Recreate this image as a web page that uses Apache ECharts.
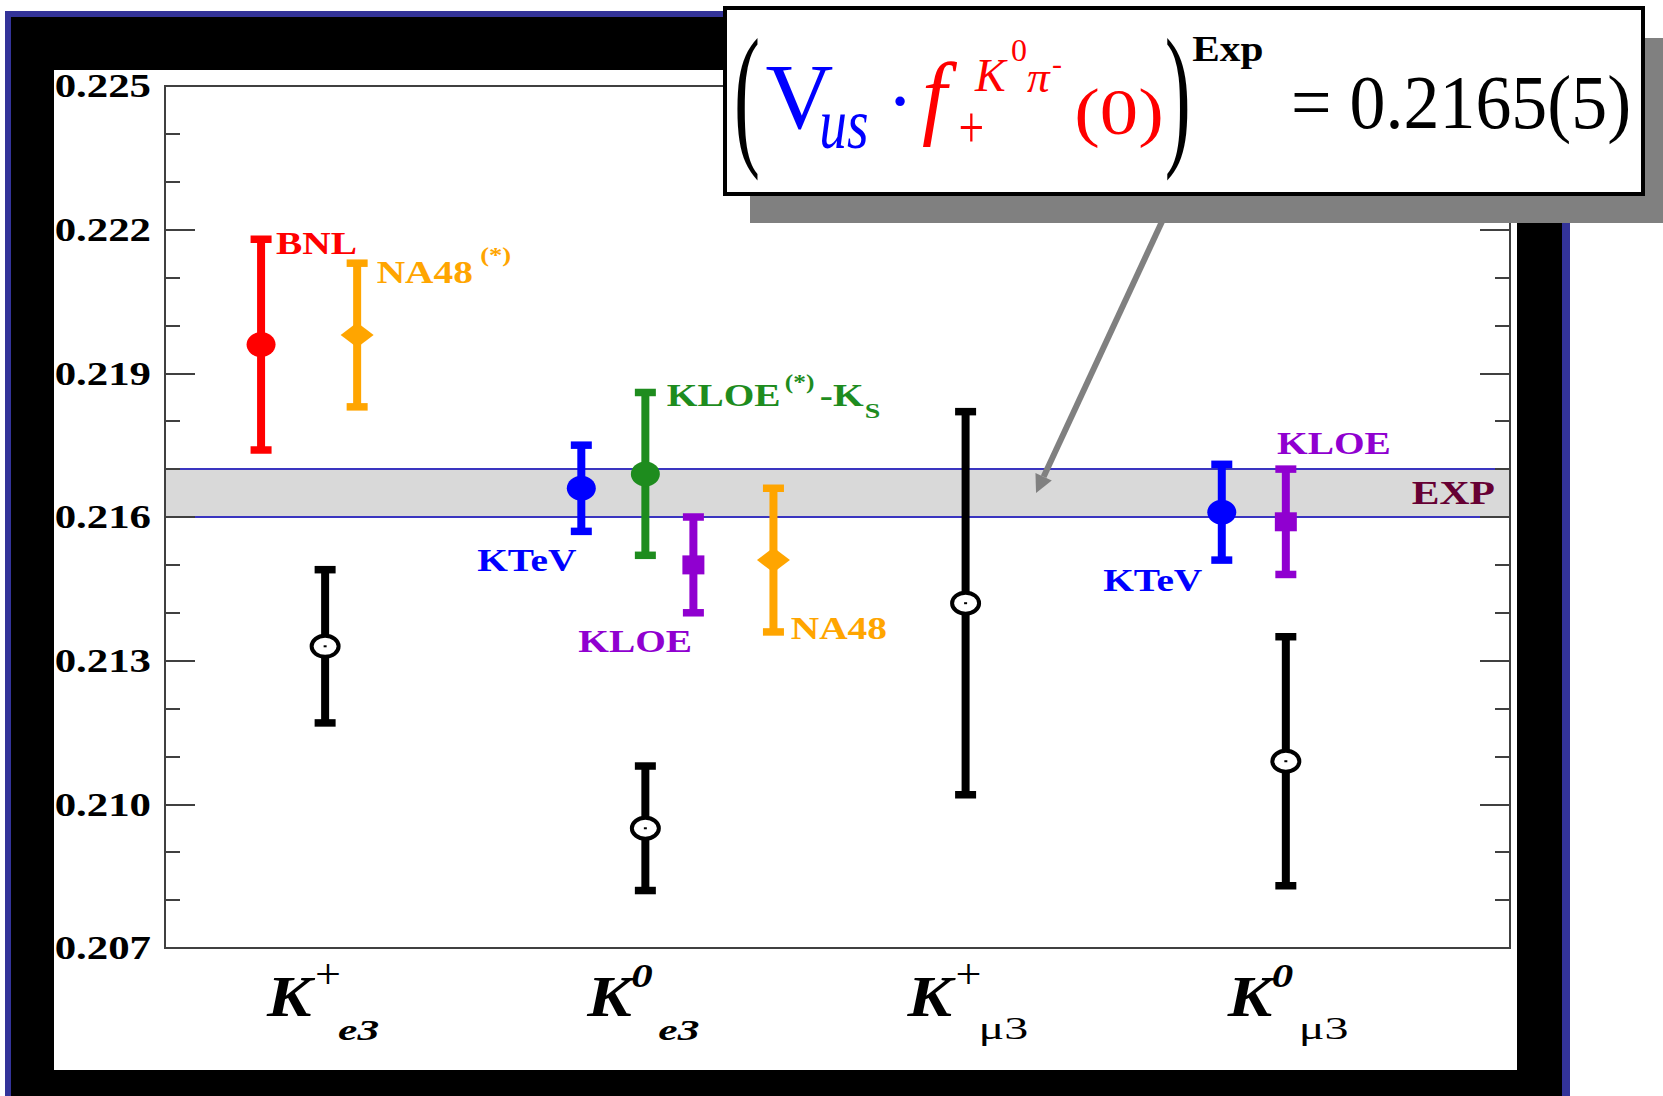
<!DOCTYPE html>
<html>
<head>
<meta charset="utf-8">
<script src="https://cdn.jsdelivr.net/npm/echarts@6/dist/echarts.min.js"></script>
<style>
  html, body { margin: 0; padding: 0; background: #ffffff; }
  #chart { width: 1663px; height: 1096px; }
</style>
</head>
<body>
<div id="chart"></div>
<script>
// ---- decay channels along the x axis (positions 1..4) ----
const channels = ['Ke3+', 'Ke3 0', 'Kmu3+', 'Kmu3 0'];

// ---- measurements: [channel index, central value, uncertainty] ----
const bnl     = [[0, 0.2196, 0.0022]];
const na48Kp  = [[0, 0.2198, 0.0015]];
const ktev    = [[1, 0.2166, 0.0009], [3, 0.2161, 0.0010]];
const kloeKs  = [[1, 0.2169, 0.0017]];
const kloe    = [[1, 0.2150, 0.0010], [3, 0.2159, 0.0011]];
const na48KL  = [[1, 0.2151, 0.0015]];
const oldFits = [[0, 0.2133, 0.0016], [1, 0.2095, 0.0013], [2, 0.2142, 0.0040], [3, 0.2109, 0.0026]];

// ---- experimental average ----
const expValue = 0.2165;
const expError = 0.0005;

// ---- y axis ----
const yMin = 0.207, yMax = 0.225, yStep = 0.003;
const yTickLabels = ['0.207', '0.210', '0.213', '0.216', '0.219', '0.222', '0.225'];

// ---- layout: horizontal slot of each point inside its channel ----
const xMin = 0.5, xMax = 4.7;
const slot = {
  bnl: [-0.2], na48Kp: [0.1], ktev: [-0.2, -0.2], kloeKs: [0],
  kloe: [0.15, 0], na48KL: [0.4], oldFits: [0, 0, 0, 0]
};

const RED = '#ff0000', ORANGE = '#ffa500', BLUE = '#0000ff', GREEN = '#1e8c1e',
      PURPLE = '#9000d0', BLACK = '#000000', AXIS = '#404040';
const SERIF = '"Liberation Serif", "Times New Roman", Times, serif';

function markerShape(kind, p, color) {
  const [cx, cy] = p;
  if (kind === 'circle') {
    return [{ type: 'ellipse', shape: { cx, cy, rx: 14.5, ry: 12.5 }, style: { fill: color } }];
  }
  if (kind === 'diamond') {
    return [{ type: 'polygon', shape: { points: [[cx, cy - 12.5], [cx + 16.5, cy], [cx, cy + 12.5], [cx - 16.5, cy]] },
              style: { fill: color } }];
  }
  if (kind === 'square') {
    return [{ type: 'rect', shape: { x: cx - 11, y: cy - 9.5, width: 22, height: 19 }, style: { fill: color } }];
  }
  // open marker
  return [
    { type: 'ellipse', shape: { cx, cy, rx: 13.5, ry: 10.5 }, style: { fill: '#ffffff', stroke: color, lineWidth: 4 } },
    { type: 'rect', shape: { x: cx - 1.5, y: cy - 1, width: 3, height: 2 }, style: { fill: color } }
  ];
}

function errorSeries(name, rows, shifts, color, marker) {
  return {
    type: 'custom',
    name,
    coordinateSystem: 'cartesian2d',
    z: 3,
    data: rows.map((r, i) => [r[0] + 1 + shifts[i], r[1], r[2]]),
    encode: { x: 0, y: 1 },
    renderItem(params, api) {
      const x = api.value(0), c = api.value(1), e = api.value(2);
      const top = api.coord([x, c + e]);
      const bot = api.coord([x, c - e]);
      const mid = api.coord([x, c]);
      return {
        type: 'group',
        children: [
          { type: 'line', shape: { x1: top[0], y1: top[1], x2: bot[0], y2: bot[1] }, style: { stroke: color, lineWidth: 8 } },
          { type: 'rect', shape: { x: top[0] - 10.5, y: top[1] - 3.75, width: 21, height: 7.5 }, style: { fill: color } },
          { type: 'rect', shape: { x: bot[0] - 10.5, y: bot[1] - 3.75, width: 21, height: 7.5 }, style: { fill: color } }
        ].concat(markerShape(marker, mid, color))
      };
    }
  };
}

const bandSeries = {
  type: 'custom',
  name: 'EXP',
  coordinateSystem: 'cartesian2d',
  z: 1,
  data: [[expValue, expError]],
  renderItem(params, api) {
    const v = api.value(0), e = api.value(1);
    const cs = params.coordSys;
    const yt = api.coord([xMin, v + e])[1];
    const yb = api.coord([xMin, v - e])[1];
    return {
      type: 'group',
      children: [
        { type: 'rect', shape: { x: cs.x, y: yt, width: cs.width, height: yb - yt }, style: { fill: '#d9d9d9' } },
        { type: 'line', shape: { x1: cs.x, y1: yt, x2: cs.x + cs.width, y2: yt }, style: { stroke: '#3a35c0', lineWidth: 2 } },
        { type: 'line', shape: { x1: cs.x, y1: yb, x2: cs.x + cs.width, y2: yb }, style: { stroke: '#3a35c0', lineWidth: 2 } }
      ]
    };
  }
};

function yAxisDef(position) {
  return {
    type: 'value', position, min: yMin, max: yMax, interval: yStep, z: 5,
    axisLine: { show: true, lineStyle: { color: AXIS, width: 2 } },
    axisTick: { show: true, inside: true, length: 30, lineStyle: { color: AXIS, width: 2 } },
    minorTick: { show: true, splitNumber: 3, length: 15, lineStyle: { color: AXIS, width: 2 } },
    axisLabel: { show: false },
    splitLine: { show: false },
    minorSplitLine: { show: false }
  };
}

const chart = echarts.init(document.getElementById('chart'), null, { renderer: 'svg' });

chart.setOption({
  animation: false,
  backgroundColor: '#ffffff',
  grid: { left: 165, right: 153, top: 86, bottom: 148, show: true, borderColor: AXIS, borderWidth: 2, z: 4 },
  xAxis: { type: 'value', min: xMin, max: xMax, show: false },
  yAxis: [yAxisDef('left'), yAxisDef('right')],
  series: [
    bandSeries,
    errorSeries('BNL', bnl, slot.bnl, RED, 'circle'),
    errorSeries('NA48(*)', na48Kp, slot.na48Kp, ORANGE, 'diamond'),
    errorSeries('KTeV', ktev, slot.ktev, BLUE, 'circle'),
    errorSeries('KLOE(*)-KS', kloeKs, slot.kloeKs, GREEN, 'circle'),
    errorSeries('KLOE', kloe, slot.kloe, PURPLE, 'square'),
    errorSeries('NA48', na48KL, slot.na48KL, ORANGE, 'diamond'),
    errorSeries('old', oldFits, slot.oldFits, BLACK, 'open')
  ]
});

// ---- text and decorations placed through the chart's own scales ----
const toPx = (x, y) => chart.convertToPixel({ xAxisIndex: 0, yAxisIndex: 0 }, [x, y]);

function T(text, x, y, o) {
  const align = o.align || 'left';
  return {
    type: 'text', x, y, scaleX: o.sx || 1, z: o.z || 50,
    style: {
      text, fill: o.color || BLACK, fontFamily: SERIF, fontSize: o.size,
      fontWeight: o.bold ? 'bold' : 'normal', fontStyle: o.italic ? 'italic' : 'normal',
      align, verticalAlign: 'middle', textAlign: align, textVerticalAlign: 'middle'
    }
  };
}

function pointPx(rows, shifts, i) {
  const r = rows[i];
  const x = r[0] + 1 + shifts[i];
  const mid = toPx(x, r[1]);
  return { x: mid[0], mid: mid[1], top: toPx(x, r[1] + r[2])[1], bot: toPx(x, r[1] - r[2])[1] };
}

const SX = 1.27;       // plot lettering is set wide
const LBL = 31;
const els = [];

// frame behind the plot
els.push({ type: 'rect', z: -30, shape: { x: 5, y: 11, width: 1565, height: 1100 }, style: { fill: '#333399' } });
els.push({ type: 'rect', z: -29, shape: { x: 11, y: 17, width: 1551, height: 1100 }, style: { fill: '#000000' } });
els.push({ type: 'rect', z: -28, shape: { x: 54, y: 70, width: 1463, height: 1000 }, style: { fill: '#ffffff' } });

// y tick labels
yTickLabels.forEach(lbl => {
  const py = toPx(xMin, parseFloat(lbl))[1];
  els.push(T(lbl, 151, py, { size: 34, bold: true, sx: 1.26, align: 'right' }));
});

// channel labels under the axis
const axisY = toPx(xMin, yMin)[1];
const chanParts = [
  { sup: '+', sub: 'e3', subBold: true },
  { sup: '0', sub: 'e3', subBold: true },
  { sup: '+', sub: 'μ3', subBold: false },
  { sup: '0', sub: 'μ3', subBold: false }
];
chanParts.forEach((c, i) => {
  const cx = toPx(i + 1, yMin)[0];
  els.push(T('K', cx - 58, axisY + 49, { size: 58, bold: true, italic: true, sx: 1.15 }));
  if (c.sup === '+') {
    els.push(T('+', cx - 10, axisY + 26, { size: 43, sx: 1.07 }));
  } else {
    els.push(T('0', cx - 14, axisY + 28, { size: 33, bold: true, italic: true, sx: 1.3 }));
  }
  if (c.subBold) {
    els.push(T(c.sub, cx + 13, axisY + 82, { size: 30, bold: true, italic: true, sx: 1.45 }));
  } else {
    els.push(T(c.sub, cx + 13, axisY + 80, { size: 32, sx: 1.5 }));
  }
});

// experiment labels
let p;
p = pointPx(bnl, slot.bnl, 0);
els.push(T('BNL', p.x + 15, p.top + 4, { size: LBL, bold: true, color: RED, sx: SX }));

p = pointPx(na48Kp, slot.na48Kp, 0);
els.push(T('NA48', p.x + 19.5, p.top + 9.5, { size: LBL, bold: true, color: ORANGE, sx: SX }));
els.push(T('(*)', p.x + 123, p.top - 8, { size: 21, bold: true, color: ORANGE, sx: SX }));

p = pointPx(kloeKs, slot.kloeKs, 0);
els.push(T('KLOE', p.x + 21.5, p.top + 3.5, { size: LBL, bold: true, color: GREEN, sx: SX }));
els.push(T('(*)', p.x + 139.5, p.top - 10, { size: 20, bold: true, color: GREEN, sx: SX }));
els.push(T('-K', p.x + 174.5, p.top + 3.5, { size: LBL, bold: true, color: GREEN, sx: SX }));
els.push(T('S', p.x + 219.5, p.top + 18, { size: 22, bold: true, color: GREEN, sx: SX }));

p = pointPx(ktev, slot.ktev, 0);
els.push(T('KTeV', p.x - 5, p.bot + 29.3, { size: LBL, bold: true, color: BLUE, sx: SX, align: 'right' }));

p = pointPx(kloe, slot.kloe, 0);
els.push(T('KLOE', p.x - 1.3, p.bot + 29.2, { size: LBL, bold: true, color: PURPLE, sx: SX, align: 'right' }));

p = pointPx(na48KL, slot.na48KL, 0);
els.push(T('NA48', p.x + 17.3, p.bot - 3.5, { size: LBL, bold: true, color: ORANGE, sx: SX }));

p = pointPx(ktev, slot.ktev, 1);
els.push(T('KTeV', p.x - 19.5, p.bot + 20.5, { size: LBL, bold: true, color: BLUE, sx: SX, align: 'right' }));

p = pointPx(kloe, slot.kloe, 1);
els.push(T('KLOE', p.x - 8.8, p.top - 25.5, { size: LBL, bold: true, color: PURPLE, sx: SX }));

// EXP tag at the right end of the band
const expPx = toPx(xMax, expValue);
els.push(T('EXP', expPx[0] - 15, expPx[1], { size: 33, bold: true, color: '#660033', sx: 1.26, align: 'right' }));

// arrow from the callout to the average
const tip = toPx(3.22, expValue);
const tail = [1172, 200];
const dx = tip[0] - tail[0], dy = tip[1] - tail[1];
const len = Math.hypot(dx, dy);
const ux = dx / len, uy = dy / len;
const base = [tip[0] - 18 * ux, tip[1] - 18 * uy];
const nx = -uy, ny = ux;
els.push({ type: 'line', z: 98, shape: { x1: tail[0], y1: tail[1], x2: base[0], y2: base[1] },
           style: { stroke: '#808080', lineWidth: 6 } });
els.push({ type: 'polygon', z: 98, shape: { points: [tip, [base[0] + 9 * nx, base[1] + 9 * ny], [base[0] - 9 * nx, base[1] - 9 * ny]] },
           style: { fill: '#808080' } });

// callout with the average value
els.push({ type: 'rect', z: 99, shape: { x: 750, y: 38, width: 913, height: 185 }, style: { fill: '#808080' } });
els.push({ type: 'rect', z: 100, shape: { x: 725, y: 8, width: 918, height: 186 },
           style: { fill: '#ffffff', stroke: '#000000', lineWidth: 4 } });
const fz = (o) => Object.assign({ z: 101 }, o);
els.push(T('(', 734, 95, fz({ size: 156, sx: 0.5 })));
els.push(T('V', 765.5, 96, fz({ size: 94, color: BLUE })));
els.push(T('us', 819.3, 124, fz({ size: 71, italic: true, color: BLUE, sx: 0.78 })));
els.push(T('·', 886.7, 101, fz({ size: 80, color: BLUE })));
els.push(T('f', 922, 95.3, fz({ size: 94, italic: true, color: RED, sx: 0.95 })));
els.push(T('K', 975, 75.5, fz({ size: 46, italic: true, color: RED })));
els.push(T('0', 1011, 50, fz({ size: 32, color: RED })));
els.push(T('π', 1027, 76.5, fz({ size: 45, italic: true, color: RED })));
els.push(T('-', 1052, 63, fz({ size: 30, color: RED })));
els.push(T('+', 958.6, 127.1, fz({ size: 59, color: RED, sx: 0.77 })));
els.push(T('(0)', 1074.3, 111.6, fz({ size: 65, color: RED, sx: 1.18 })));
els.push(T(')', 1164.7, 95, fz({ size: 156, sx: 0.5 })));
els.push(T('Exp', 1192.3, 49, fz({ size: 35, bold: true, sx: 1.18 })));
els.push(T('= ' + expValue.toFixed(4) + '(' + Math.round(expError * 1e4) + ')', 1291.1, 102.4, fz({ size: 76, sx: 0.946 })));

chart.setOption({ graphic: { elements: els } });
</script>
</body>
</html>
